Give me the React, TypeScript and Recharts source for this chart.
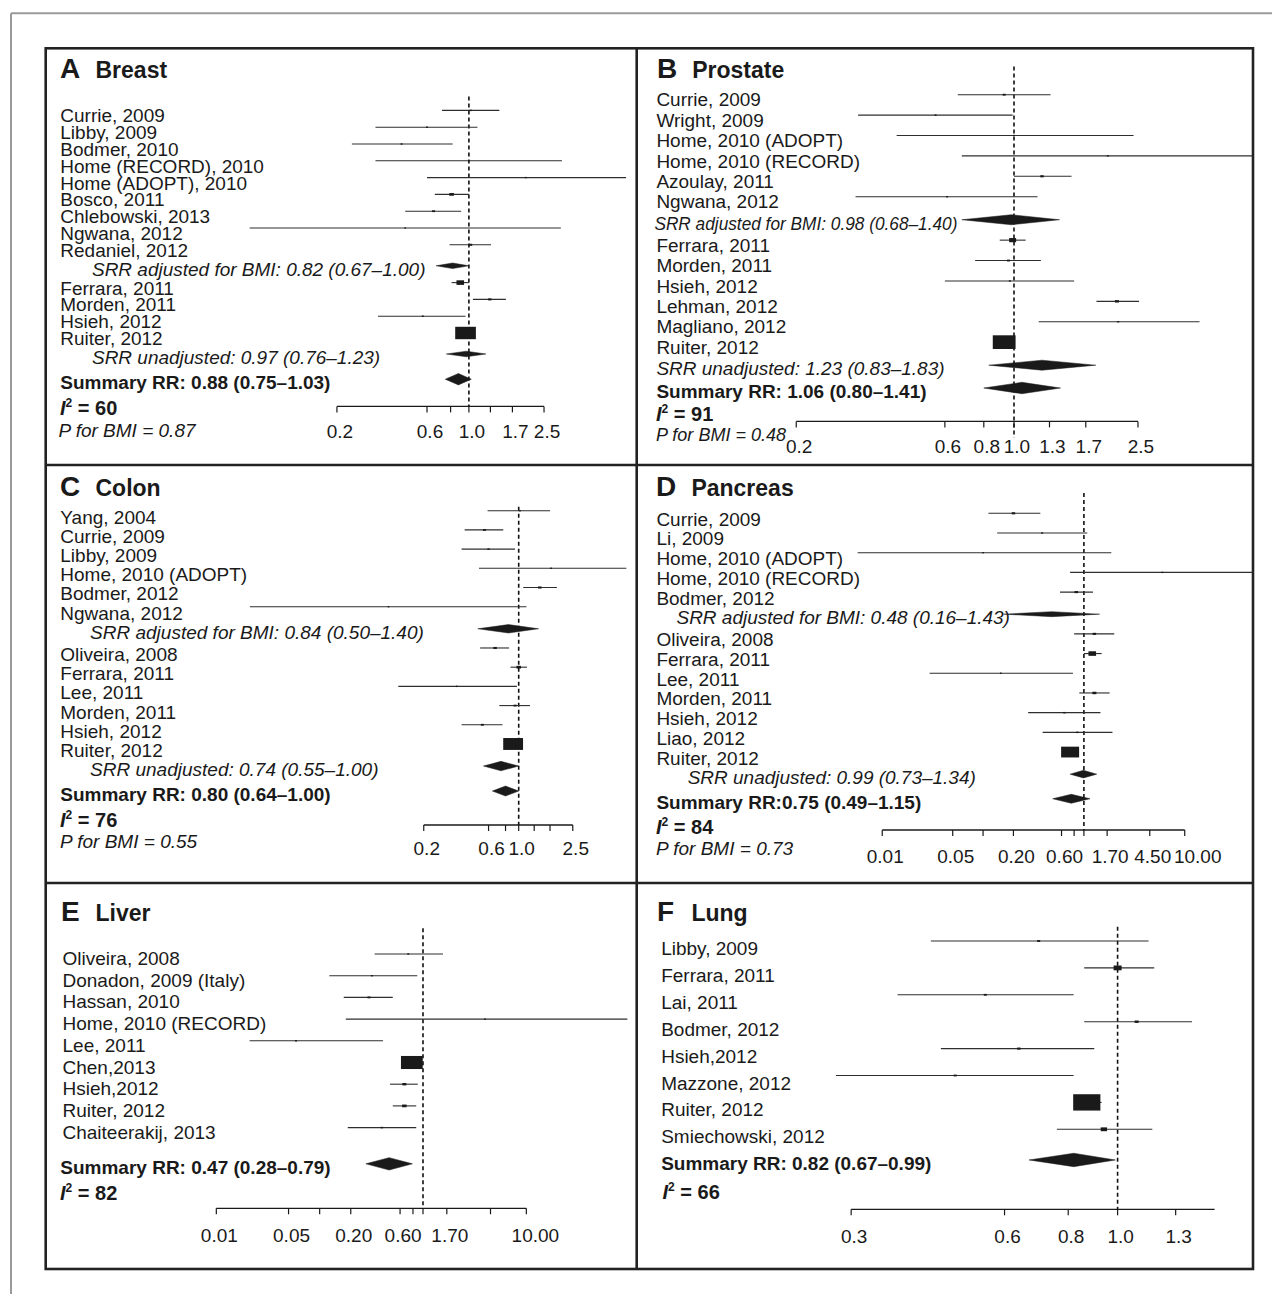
import React from 'react';
import { ScatterChart, Scatter, XAxis, YAxis, ErrorBar, ReferenceLine } from 'recharts';

const FONT = '"Liberation Sans", Arial, Helvetica, sans-serif';
const INK = '#1a1a1a';
const CI = '#2e2e2e';

// A: breast
const breastRows = ['Currie, 2009', 'Libby, 2009', 'Bodmer, 2010', 'Home (RECORD), 2010', 'Home (ADOPT), 2010', 'Bosco, 2011', 'Chlebowski, 2013', 'Ngwana, 2012', 'Redaniel, 2012', 'SRR adjusted for BMI: ', 'Ferrara, 2011', 'Morden, 2011', 'Hsieh, 2012', 'Ruiter, 2012', 'SRR unadjusted: ', 'Summary RR: '];
const breastRR = [1.02, 0.6, 0.44, 1.0, 2.0, 0.81, 0.65, 0.46, 1.02, 0.82, 0.9, 1.29, 0.57, 0.96, 0.97, 0.88];
const breastLo = [0.72, 0.32, 0.24, 0.32, 0.6, 0.66, 0.46, 0.069, 0.79, 0.67, 0.81, 1.05, 0.33, 0.92, 0.76, 0.75];
const breastHi = [1.45, 1.11, 0.82, 3.11, 6.8, 1.0, 0.91, 3.07, 1.31, 1.0, 1.0, 1.57, 0.96, 1.0, 1.23, 1.03];
const breastWeight = [0.5, 0.35, 0.35, 0.2, 0.25, 1.8, 0.8, 0.2, 1.0, 0, 5, 1.0, 0.35, 37, 0, 0];
const breastTicks = [0.2, 0.6, 0.8, 1.0, 1.3, 1.7, 2.5];
const breastTickLabels = ['0.2', '0.6', '', '1.0', '', '1.7', '2.5'];

// B: prostate
const prostateRows = ['Currie, 2009', 'Wright, 2009', 'Home, 2010 (ADOPT)', 'Home, 2010 (RECORD)', 'Azoulay, 2011', 'Ngwana, 2012', 'SRR adjusted for BMI: ', 'Ferrara, 2011', 'Morden, 2011', 'Hsieh, 2012', 'Lehman, 2012', 'Magliano, 2012', 'Ruiter, 2012', 'SRR unadjusted: ', 'Summary RR: '];
const prostateRR = [0.93, 0.56, 1.0, 2.0, 1.23, 0.61, 0.98, 0.99, 0.96, 0.97, 2.14, 2.16, 0.93, 1.23, 1.06];
const prostateLo = [0.66, 0.316, 0.42, 0.68, 1.0, 0.31, 0.68, 0.9, 0.75, 0.6, 1.84, 1.2, 0.88, 0.83, 0.8];
const prostateHi = [1.31, 0.99, 2.42, 7.0, 1.53, 1.19, 1.4, 1.09, 1.22, 1.56, 2.52, 3.94, 0.98, 1.83, 1.41];
const prostateWeight = [0.8, 0.35, 0.25, 0.3, 1.06, 0.35, 0, 4.2, 0.8, 0.35, 1.4, 0.35, 45, 0, 0];
const prostateTicks = [0.2, 0.6, 0.8, 1.0, 1.3, 1.7, 2.5];
const prostateTickLabels = ['0.2', '0.6', '0.8', '1.0', '1.3', '1.7', '2.5'];

// C: colon
const colonRows = ['Yang, 2004', 'Currie, 2009', 'Libby, 2009', 'Home, 2010 (ADOPT)', 'Bodmer, 2012', 'Ngwana, 2012', 'SRR adjusted for BMI: ', 'Oliveira, 2008', 'Ferrara, 2011', 'Lee, 2011', 'Morden, 2011', 'Hsieh, 2012', 'Ruiter, 2012', 'SRR unadjusted: ', 'Summary RR: '];
const colonRR = [1.02, 0.56, 0.6, 1.73, 1.43, 0.11, 0.84, 0.67, 1.0, 0.35, 0.94, 0.54, 0.91, 0.74, 0.8];
const colonLo = [0.59, 0.4, 0.38, 0.51, 1.08, 0.0105, 0.5, 0.52, 0.87, 0.13, 0.72, 0.38, 0.86, 0.55, 0.64];
const colonHi = [1.7, 0.77, 0.94, 6.2, 1.91, 1.14, 1.4, 0.85, 1.15, 0.97, 1.21, 0.76, 0.96, 1.0, 1.0];
const colonWeight = [0.35, 0.8, 0.5, 0.3, 1.06, 0.2, 0, 1.06, 1.75, 0.2, 0.8, 0.8, 34, 0, 0];
const colonTicks = [0.2, 0.6, 0.8, 1.0, 1.3, 1.7, 2.5];
const colonTickLabels = ['0.2', '0.6', '', '1.0', '', '', '2.5'];

// D: pancreas
const pancreasRows = ['Currie, 2009', 'Li, 2009', 'Home, 2010 (ADOPT)', 'Home, 2010 (RECORD)', 'Bodmer, 2012', 'SRR adjusted for BMI: ', 'Oliveira, 2008', 'Ferrara, 2011', 'Lee, 2011', 'Morden, 2011', 'Hsieh, 2012', 'Liao, 2012', 'Ruiter, 2012', 'SRR unadjusted: ', 'Summary RR:'];
const pancreasRR = [0.2, 0.385, 0.1, 6.0, 0.84, 0.48, 1.27, 1.21, 0.15, 1.27, 0.64, 0.86, 0.73, 0.99, 0.75];
const pancreasLo = [0.113, 0.138, 0.0057, 0.73, 0.58, 0.16, 0.8, 1.0, 0.0295, 0.9, 0.28, 0.39, 0.68, 0.73, 0.49];
const pancreasHi = [0.37, 1.08, 1.87, 80, 1.23, 1.43, 2.0, 1.5, 0.78, 1.8, 1.46, 1.92, 0.79, 1.34, 1.15];
const pancreasWeight = [1.06, 0.35, 0.2, 0.2, 1.06, 0, 1.06, 5, 0.2, 1.4, 0.5, 0.5, 28, 0, 0];
const pancreasTicks = [0.01, 0.05, 0.1, 0.2, 0.6, 0.8, 1.0, 1.7, 4.5, 10];
const pancreasTickLabels = ['0.01', '0.05', '', '0.20', '0.60', '', '', '1.70', '4.50', '10.00'];

// E: liver
const liverRows = ['Oliveira, 2008', 'Donadon, 2009 (Italy)', 'Hassan, 2010', 'Home, 2010 (RECORD)', 'Lee, 2011', 'Chen,2013', 'Hsieh,2012', 'Ruiter, 2012', 'Chaiteerakij, 2013', 'Summary RR: '];
const liverRR = [0.72, 0.32, 0.3, 3.98, 0.059, 0.78, 0.66, 0.66, 0.4, 0.47];
const liverLo = [0.34, 0.124, 0.171, 0.179, 0.021, 0.7, 0.48, 0.51, 0.187, 0.28];
const liverHi = [1.56, 0.88, 0.51, 95, 0.41, 0.89, 0.89, 0.86, 0.86, 0.79];
const liverWeight = [0.35, 0.35, 0.8, 0.2, 0.35, 41, 1.4, 1.75, 0.54, 0];
const liverTicks = [0.01, 0.05, 0.1, 0.2, 0.6, 0.8, 1.0, 1.7, 4.5, 10];
const liverTickLabels = ['0.01', '0.05', '', '0.20', '0.60', '', '', '1.70', '', '10.00'];

// F: lung
const lungRows = ['Libby, 2009', 'Ferrara, 2011', 'Lai, 2011', 'Bodmer, 2012', 'Hsieh,2012', 'Mazzone, 2012', 'Ruiter, 2012', 'Smiechowski, 2012', 'Summary RR: '];
const lungRR = [0.7, 1.0, 0.55, 1.09, 0.64, 0.48, 0.87, 0.94, 0.82];
const lungLo = [0.43, 0.86, 0.37, 0.86, 0.45, 0.28, 0.82, 0.76, 0.67];
const lungHi = [1.15, 1.18, 0.82, 1.4, 0.9, 0.82, 0.93, 1.17, 0.99];
const lungWeight = [0.8, 5.5, 0.8, 1.4, 1.06, 0.8, 64, 3.5, 0];
const lungTicks = [0.3, 0.6, 0.8, 1.0, 1.3];
const lungTickLabels = ['0.3', '0.6', '0.8', '1.0', '1.3'];

const i2Values = [60, 91, 76, 84, 82, 66];
const bmiP = [0.87, 0.48, 0.55, 0.73];

interface Layout {
  left: number; top: number; width: number; height: number;
  plotRight: number; onePx: number; pxPerLog: number; axisY: number; axisEnd: number;
  firstRowY: number; rowStep: number; pooledGap: number; summaryGap: number;
  labelX: number; summaryX: number; pooledX: number[]; pooledWidth: (number | undefined)[]; pooledHalf: number[];
  summaryHalf: number; studyDy: number; dashTop: number; dashBottom: number; tickGap: number; lastTickDx: number;
  letterX: number; siteX: number; titleY: number; i2X: number; i2Y: number;
  pX?: number; pY?: number; pWidth?: number;
}

interface PanelSpec {
  letter: string; site: string;
  rows: string[]; rr: number[]; lo: number[]; hi: number[]; weight: number[];
  ticks: number[]; tickLabels: string[]; i2: number; p?: number; layout: Layout;
}

const panels: PanelSpec[] = [
  {
    letter: 'A', site: 'Breast', rows: breastRows, rr: breastRR, lo: breastLo, hi: breastHi, weight: breastWeight,
    ticks: breastTicks, tickLabels: breastTickLabels, i2: i2Values[0], p: bmiP[0],
    layout: {
      left: 45.7, top: 48.3, width: 591, height: 416.7, plotRight: 623.6, onePx: 468.6, pxPerLog: 82.0,
      axisY: 406.7, axisEnd: 2.5, firstRowY: 110.7, rowStep: 16.8, pooledGap: 1.25, summaryGap: 1.5,
      labelX: 60, summaryX: 60, pooledX: [91.7, 91.7], pooledWidth: [], pooledHalf: [2.8, 2.8],
      summaryHalf: 5.7, studyDy: 5.3, dashTop: 96.7, dashBottom: 406.7, tickGap: 25, lastTickDx: 0,
      letterX: 60, siteX: 95.5, titleY: 78.3, i2X: 60, i2Y: 408.3, pX: 58.4, pY: 430,
    },
  },
  {
    letter: 'B', site: 'Prostate', rows: prostateRows, rr: prostateRR, lo: prostateLo, hi: prostateHi, weight: prostateWeight,
    ticks: prostateTicks, tickLabels: prostateTickLabels, i2: i2Values[1], p: bmiP[1],
    layout: {
      left: 636.7, top: 48.3, width: 616.3, height: 416.7, plotRight: 1253, onePx: 1013.7, pxPerLog: 135.3,
      axisY: 421.7, axisEnd: 2.5, firstRowY: 95, rowStep: 20.4, pooledGap: 1.13, summaryGap: 1.12,
      labelX: 656.1, summaryX: 656.1, pooledX: [654.1, 656.1], pooledWidth: [303], pooledHalf: [5, 5],
      summaryHalf: 5.7, studyDy: 5, dashTop: 66.7, dashBottom: 438, tickGap: 25, lastTickDx: 0,
      letterX: 656.9, siteX: 692.2, titleY: 78.3, i2X: 656, i2Y: 414, pX: 656, pY: 434, pWidth: 130,
    },
  },
  {
    letter: 'C', site: 'Colon', rows: colonRows, rr: colonRR, lo: colonLo, hi: colonHi, weight: colonWeight,
    ticks: colonTicks, tickLabels: colonTickLabels, i2: i2Values[2], p: bmiP[2],
    layout: {
      left: 45.7, top: 465, width: 591, height: 418, plotRight: 623.6, onePx: 518.4, pxPerLog: 59.0,
      axisY: 825, axisEnd: 2.5, firstRowY: 510.7, rowStep: 19.2, pooledGap: 1.15, summaryGap: 1.3,
      labelX: 60, summaryX: 60, pooledX: [89.8, 89.8], pooledWidth: [], pooledHalf: [4.2, 4.7],
      summaryHalf: 5, studyDy: 6.2, dashTop: 506.7, dashBottom: 825, tickGap: 23.3, lastTickDx: 0,
      letterX: 60, siteX: 95.5, titleY: 496, i2X: 60, i2Y: 820, pX: 60, pY: 841.7,
    },
  },
  {
    letter: 'D', site: 'Pancreas', rows: pancreasRows, rr: pancreasRR, lo: pancreasLo, hi: pancreasHi, weight: pancreasWeight,
    ticks: pancreasTicks, tickLabels: pancreasTickLabels, i2: i2Values[3], p: bmiP[3],
    layout: {
      left: 636.7, top: 465, width: 616.3, height: 418, plotRight: 1253, onePx: 1083.6, pxPerLog: 43.79,
      axisY: 830, axisEnd: 10, firstRowY: 513.3, rowStep: 19.7, pooledGap: 1.12, summaryGap: 1.25,
      labelX: 656.1, summaryX: 656.1, pooledX: [676.2, 687.4], pooledWidth: [], pooledHalf: [2.5, 3.8],
      summaryHalf: 4.5, studyDy: 5.7, dashTop: 493, dashBottom: 830, tickGap: 26.7, lastTickDx: 10,
      letterX: 656.1, siteX: 691.4, titleY: 496, i2X: 656, i2Y: 826.7, pX: 656, pY: 848.3,
    },
  },
  {
    letter: 'E', site: 'Liver', rows: liverRows, rr: liverRR, lo: liverLo, hi: liverHi, weight: liverWeight,
    ticks: liverTicks, tickLabels: liverTickLabels, i2: i2Values[4],
    layout: {
      left: 45.7, top: 883, width: 591, height: 386, plotRight: 623.6, onePx: 422.7, pxPerLog: 44.88,
      axisY: 1208.3, axisEnd: 10, firstRowY: 954, rowStep: 21.7, pooledGap: 1, summaryGap: 1.67,
      labelX: 62.2, summaryX: 60, pooledX: [], pooledWidth: [], pooledHalf: [],
      summaryHalf: 6.2, studyDy: 4.3, dashTop: 928.3, dashBottom: 1208.3, tickGap: 26.7, lastTickDx: 6,
      letterX: 61, siteX: 95.5, titleY: 920.7, i2X: 60, i2Y: 1193.3,
    },
  },
  {
    letter: 'F', site: 'Lung', rows: lungRows, rr: lungRR, lo: lungLo, hi: lungHi, weight: lungWeight,
    ticks: lungTicks, tickLabels: lungTickLabels, i2: i2Values[5],
    layout: {
      left: 636.7, top: 883, width: 616.3, height: 386, plotRight: 1253, onePx: 1117.3, pxPerLog: 221.3,
      axisY: 1209.3, axisEnd: 1.55, firstRowY: 941, rowStep: 26.9, pooledGap: 1, summaryGap: 1.14,
      labelX: 660.9, summaryX: 660.9, pooledX: [], pooledWidth: [], pooledHalf: [],
      summaryHalf: 6.7, studyDy: 7.3, dashTop: 926.7, dashBottom: 1209.3, tickGap: 27.4, lastTickDx: 0,
      letterX: 656.9, siteX: 691.4, titleY: 920.7, i2X: 662.5, i2Y: 1191.7,
    },
  },
];

type Kind = 'study' | 'pooled' | 'summary';

interface Row {
  name: string; kind: Kind; slot: number; y: number;
  rr: number; lo: number; hi: number; w: number;
}

const f2 = (v: number) => v.toFixed(2);
const TEXT_SIZE = 19;

function buildRows(spec: PanelSpec): Row[] {
  const L = spec.layout;
  let pos = 0;
  let pooled = 0;
  return spec.rows.map((name, i) => {
    const kind: Kind = name.startsWith('SRR') ? 'pooled' : name.startsWith('Summary') ? 'summary' : 'study';
    if (i > 0) pos += kind === 'pooled' ? L.pooledGap : kind === 'summary' ? L.summaryGap : 1;
    const slot = kind === 'pooled' ? pooled++ : -1;
    return { name, kind, slot, y: pos, rr: spec.rr[i], lo: spec.lo[i], hi: spec.hi[i], w: spec.weight[i] };
  });
}

// box side grows with the square root of the study weight
const boxWidth = (w: number) => Math.max(1.6, 3.4 * Math.sqrt(w));

// the label axis needs a non-zero width or recharts skips drawing it
const LABEL_AXIS_W = 1;

function ForestPanel({ spec }: { spec: PanelSpec }) {
  const L = spec.layout;
  const rows = buildRows(spec);
  const plotW = L.plotRight - L.left - LABEL_AXIS_W;
  const one = L.onePx - L.left - LABEL_AXIS_W;
  const xDomain = [Math.exp(-one / L.pxPerLog), Math.exp((plotW - one) / L.pxPerLog)];
  const toRow = (py: number) => (py - L.firstRowY) / L.rowStep;
  const yDomain = [toRow(L.top), toRow(L.axisY)];

  const studies = rows
    .filter((r) => r.kind === 'study')
    .map((r) => ({ x: r.rr, y: r.y, w: r.w, err: [r.rr - r.lo, r.hi - r.rr] }));

  const diamonds = rows
    .filter((r) => r.kind !== 'study')
    .map((r) => {
      const half = (r.kind === 'pooled' ? L.pooledHalf[r.slot] : L.summaryHalf) / L.rowStep;
      return [
        { x: r.lo, y: r.y },
        { x: r.rr, y: r.y - half },
        { x: r.hi, y: r.y },
        { x: r.rr, y: r.y + half },
      ];
    });

  const rowTick = (props: any) => {
    const row = rows.find((r) => Math.abs(r.y - props.payload.value) < 1e-6);
    if (!row) return <g />;
    const x = (row.kind === 'pooled' ? L.pooledX[row.slot] : row.kind === 'summary' ? L.summaryX : L.labelX) - L.left;
    const dy = row.kind === 'study' ? L.studyDy : 3.5;
    const text = row.kind === 'study' ? row.name : `${row.name}${f2(row.rr)} (${f2(row.lo)}–${f2(row.hi)})`;
    const squeeze = row.kind === 'pooled' ? L.pooledWidth[row.slot] : undefined;
    return (
      <text
        x={x}
        y={props.y + dy + TEXT_SIZE * 0.355}
        fontSize={TEXT_SIZE}
        fontFamily={FONT}
        fill={INK}
        textAnchor="start"
        fontStyle={row.kind === 'pooled' ? 'italic' : 'normal'}
        fontWeight={row.kind === 'summary' ? 'bold' : 'normal'}
        textLength={squeeze}
        lengthAdjust={squeeze ? 'spacingAndGlyphs' : undefined}
      >
        {text}
      </text>
    );
  };

  const xTick = (props: any) => {
    const idx = spec.ticks.findIndex((t) => Math.abs(t - props.payload.value) < 1e-9);
    const label = idx >= 0 ? spec.tickLabels[idx] : '';
    const dx = 3 + (idx === spec.ticks.length - 1 ? L.lastTickDx : 0);
    return (
      <text x={props.x + dx} y={props.y + L.tickGap + 0.8} textAnchor="middle" fontSize={TEXT_SIZE} fontFamily={FONT} fill={INK}>
        {label}
      </text>
    );
  };

  const boxShape = (p: any) => {
    const w = boxWidth(p.payload?.w ?? p.w ?? 0);
    const h = Math.max(1.4, w * 0.6);
    return <rect x={p.cx - w / 2} y={p.cy - h / 2} width={w} height={h} fill={INK} />;
  };

  const diamondPath = (lp: any) => (
    <polygon points={lp.points.map((pt: any) => `${pt.x},${pt.y}`).join(' ')} fill={INK} stroke={INK} strokeWidth={0.5} />
  );

  return (
    <ScatterChart
      width={L.width}
      height={L.height}
      margin={{ top: 0, right: L.left + L.width - L.plotRight, bottom: 0, left: 0 }}
    >
      <XAxis
        type="number"
        dataKey="x"
        scale="log"
        domain={xDomain}
        allowDataOverflow
        ticks={spec.ticks}
        interval={0}
        axisLine={false}
        stroke={INK}
        tickLine={{ stroke: INK, strokeWidth: 1.2 }}
        tickSize={6}
        tickMargin={0}
        height={L.height - (L.axisY - L.top)}
        tick={xTick}
      />
      <YAxis
        type="number"
        dataKey="y"
        domain={yDomain}
        reversed
        allowDataOverflow
        width={LABEL_AXIS_W}
        ticks={rows.map((r) => r.y)}
        interval={0}
        axisLine={false}
        tickLine={false}
        tick={rowTick}
      />
      <ReferenceLine
        segment={[{ x: spec.ticks[0], y: yDomain[1] }, { x: L.axisEnd, y: yDomain[1] }]}
        stroke={INK}
        strokeWidth={1.3}
        ifOverflow="visible"
      />
      <ReferenceLine
        segment={[{ x: 1, y: toRow(L.dashTop) }, { x: 1, y: toRow(L.dashBottom) }]}
        stroke="#111"
        strokeWidth={1.6}
        strokeDasharray="4 3"
        ifOverflow="visible"
      />
      <Scatter data={studies} isAnimationActive={false} shape={boxShape}>
        <ErrorBar dataKey="err" direction="x" width={0} stroke={CI} strokeWidth={1.1} isAnimationActive={false} />
      </Scatter>
      {diamonds.map((pts, i) => (
        <Scatter
          key={`diamond-${i}`}
          data={pts}
          isAnimationActive={false}
          shape={() => <g />}
          line={diamondPath}
        />
      ))}
    </ScatterChart>
  );
}

function PanelText({ spec }: { spec: PanelSpec }) {
  const L = spec.layout;
  return (
    <g fontFamily={FONT} fill={INK}>
      <text x={L.letterX} y={L.titleY} fontSize={28} fontWeight="bold">{spec.letter}</text>
      <text x={L.siteX} y={L.titleY} fontSize={23} fontWeight="bold">{spec.site}</text>
      <text x={L.i2X} y={L.i2Y + 7} fontSize={20} fontWeight="bold">
        <tspan fontStyle="italic">I</tspan>
        <tspan fontSize={12} dy={-8}>2</tspan>
        <tspan dy={8}> = {spec.i2}</tspan>
      </text>
      {spec.p !== undefined && L.pX !== undefined && L.pY !== undefined && (
        <text
          x={L.pX}
          y={L.pY + TEXT_SIZE * 0.355}
          fontSize={TEXT_SIZE}
          fontStyle="italic"
          textLength={L.pWidth}
          lengthAdjust={L.pWidth ? 'spacingAndGlyphs' : undefined}
        >
          P for BMI = {f2(spec.p)}
        </text>
      )}
    </g>
  );
}

export default function App() {
  return (
    <div style={{ position: 'absolute', left: 0, top: 0, width: 1272, height: 1294, background: '#fff' }}>
      <svg width={1272} height={1294} style={{ position: 'absolute', left: 0, top: 0 }}>
        <line x1={11} y1={13.3} x2={1272} y2={13.3} stroke="#9a9a9a" strokeWidth={2} />
        <line x1={11} y1={13.3} x2={11} y2={1294} stroke="#9a9a9a" strokeWidth={2} />
        <rect x={45.7} y={48.3} width={1207.3} height={1220.7} fill="none" stroke="#222" strokeWidth={2.6} />
        <line x1={636.7} y1={48.3} x2={636.7} y2={1269} stroke="#222" strokeWidth={2.6} />
        <line x1={45.7} y1={465} x2={1253} y2={465} stroke="#222" strokeWidth={2.6} />
        <line x1={45.7} y1={883} x2={1253} y2={883} stroke="#222" strokeWidth={2.6} />
        {panels.map((p) => (
          <PanelText key={p.letter} spec={p} />
        ))}
      </svg>
      {panels.map((p) => (
        <div key={p.letter} style={{ position: 'absolute', left: p.layout.left, top: p.layout.top }}>
          <ForestPanel spec={p} />
        </div>
      ))}
    </div>
  );
}
